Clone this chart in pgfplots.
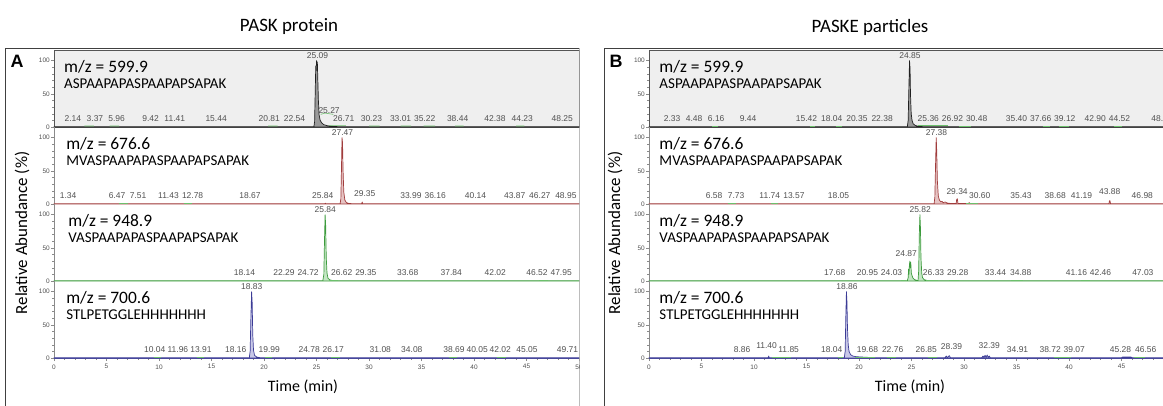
\documentclass[border=0pt]{standalone}
\usepackage{fontspec}
\setmainfont{Carlito}
\newfontfamily\arial{Liberation Sans}
\usepackage{pgfplots}
\pgfplotsset{compat=1.18}

\definecolor{labgray}{HTML}{505050}
\definecolor{axgray}{HTML}{8A8A8A}
\definecolor{framegray}{HTML}{555555}
\definecolor{boxfill}{HTML}{EFEFEF}
\definecolor{tblack}{HTML}{202020}
\definecolor{fblack}{HTML}{9A9A9A}
\definecolor{tred}{HTML}{A03C3C}
\definecolor{fred}{HTML}{E6C4C4}
\definecolor{tgreen}{HTML}{3D9B3D}
\definecolor{fgreen}{HTML}{C4E6C4}
\definecolor{tblue}{HTML}{3C3C96}
\definecolor{fblue}{HTML}{C8C8E8}
\definecolor{gmark}{HTML}{6CC06C}
\definecolor{panelframe}{HTML}{404040}

\tikzset{
  pklab/.style={font=\arial\fontsize{8.5}{9}\selectfont, text=labgray, inner sep=0pt},
  mz/.style={font=\fontsize{17.5}{20}\selectfont, anchor=west, inner sep=0pt},
  sq/.style={font=\fontsize{15}{17}\selectfont, anchor=west, inner sep=0pt},
  gmk/.style={gmark, line width=0.6bp},
}
\pgfplotsset{
  base/.style={scale only axis, height=77bp, ymin=0, ymax=116, clip=false,
    ytick={0,50,100}, minor y tick num=4, tick align=outside,
    major tick length=3bp, minor tick length=1.8bp,
    tick style={axgray, line width=0.4bp},
    yticklabel style={font=\arial\fontsize{6.5}{7}\selectfont, text=labgray, inner sep=1bp},
    xticklabel style={font=\arial\fontsize{6.5}{7}\selectfont, text=labgray},
    /pgf/number format/assume math mode=true,
    every axis plot/.append style={line width=0.7bp, line join=round},
    unbounded coords=jump,
  },
  pA/.style={width=525bp, xmin=0, xmax=50},
  pB/.style={width=514bp, xmin=0, xmax=48.95},
  topp/.style={axis background/.style={fill=boxfill},
    axis line style={draw=framegray, line width=0.6bp}, xtick=\empty, ytick pos=left},
  midp/.style={axis x line=none, axis y line*=left, axis line style={draw=axgray,-}},
  botp/.style={axis x line*=bottom, axis y line*=left, axis line style={draw=axgray,-},
    xtick={0,5,...,50}, minor x tick num=4},
}
\newcommand{\pk}[3]{\node[pklab] at (axis cs:#1,#2) {#3};}

\begin{document}
\begin{tikzpicture}[x=1bp,y=1bp]
\useasboundingbox (0,0) rectangle (1163,405);

% ---------------- Panel A ----------------
\begin{scope}
\clip (0,0) rectangle (579.3,405);
% A1
\begin{axis}[base,pA,topp,at={(54bp,278bp)},anchor=south west]
\addplot[draw=tblack, fill=fblack] coordinates {(0,0.4)(24.75,0.4)(24.82,8)(24.88,55)(24.93,92)(24.97,85)(25.0,100)(25.04,93)(25.08,98)(25.12,75)(25.18,40)(25.25,18)(25.35,10)(25.5,6)(25.7,3.5)(26.0,2)(26.5,1)(27.2,0.4)(50,0.4)} \closedcycle;
\addplot[gmk] coordinates {(2.9,1.5)(3.8,1.5)(3.8,nan)(5.3,1.5)(6.2,1.5)(6.2,nan)(20.4,1.5)(21.3,1.5)(21.3,nan)(26.2,2.5)(27.8,2.5)(27.8,nan)(30.0,1.5)(31.0,1.5)(31.0,nan)(33.0,1.5)(34.0,1.5)(34.0,nan)(35.2,1.5)(36.3,1.5)(36.3,nan)(38.2,1.5)(39.0,1.5)(39.0,nan)(44.0,1.5)(44.8,1.5)(44.8,nan)(25.4,19)(25.8,21)(26.6,19)};
\node[mz] at (rel axis cs:0.019,0.78) {m/z = 599.9};
\node[sq] at (rel axis cs:0.019,0.56) {ASPAAPAPASPAAPAPSAPAK};
\pk{25.09}{107}{25.09}\pk{26.2}{24}{25.27}
\pk{1.8}{12}{2.14}\pk{3.9}{12}{3.37}\pk{5.96}{12}{5.96}\pk{9.2}{12}{9.42}\pk{11.5}{12}{11.41}
\pk{15.44}{12}{15.44}\pk{20.5}{12}{20.81}\pk{22.9}{12}{22.54}\pk{27.6}{12}{26.71}\pk{30.23}{12}{30.23}
\pk{33.01}{12}{33.01}\pk{35.3}{12}{35.22}\pk{38.44}{12}{38.44}\pk{42.0}{12}{42.38}\pk{44.6}{12}{44.23}\pk{48.4}{12}{48.25}
\end{axis}
% A2
\begin{axis}[base,pA,midp,at={(54bp,201bp)},anchor=south west]
\addplot[draw=tred, fill=fred] coordinates {(0,0.4)(25.8,0.4)(25.84,1.2)(25.9,0.4)(27.25,0.4)(27.32,8)(27.38,55)(27.43,100)(27.48,92)(27.53,50)(27.6,18)(27.7,6)(27.85,2)(28.1,0.8)(28.5,0.4)(29.3,0.4)(29.35,3)(29.4,0.4)(50,0.4)} \closedcycle;
\addplot[gmk] coordinates {(6.2,1.5)(7.0,1.5)(7.0,nan)(12.4,1.5)(13.1,1.5)};
\node[mz] at (rel axis cs:0.023,0.78) {m/z = 676.6};
\node[sq] at (rel axis cs:0.023,0.56) {MVASPAAPAPASPAAPAPSAPAK};
\pk{27.47}{107}{27.47}
\pk{1.34}{12}{1.34}\pk{6.0}{12}{6.47}\pk{8.0}{12}{7.51}\pk{10.9}{12}{11.43}\pk{13.2}{12}{12.78}
\pk{18.67}{12}{18.67}\pk{25.6}{12}{25.84}\pk{29.6}{15}{29.35}\pk{33.99}{12}{33.99}\pk{36.3}{12}{36.16}
\pk{40.14}{12}{40.14}\pk{43.87}{12}{43.87}\pk{46.27}{12}{46.27}\pk{48.75}{12}{48.95}
\end{axis}
% A3
\begin{axis}[base,pA,midp,at={(54bp,124bp)},anchor=south west]
\addplot[draw=tgreen, fill=fgreen] coordinates {(0,0.4)(25.6,0.4)(25.7,10)(25.76,60)(25.82,100)(25.87,85)(25.93,35)(26.0,12)(26.1,4)(26.3,1.5)(26.6,0.5)(50,0.4)} \closedcycle;
\addplot[gmk] coordinates {(46.2,1.5)(47.0,1.5)(47.0,nan)(26.2,1.5)(27.0,1.5)};
\node[mz] at (rel axis cs:0.027,0.78) {m/z = 948.9};
\node[sq] at (rel axis cs:0.027,0.56) {VASPAAPAPASPAAPAPSAPAK};
\pk{25.84}{107}{25.84}
\pk{18.14}{12}{18.14}\pk{21.9}{12}{22.29}\pk{24.2}{12}{24.72}\pk{27.4}{12}{26.62}\pk{29.7}{12}{29.35}
\pk{33.68}{12}{33.68}\pk{37.84}{12}{37.84}\pk{42.02}{12}{42.02}\pk{46.0}{12}{46.52}\pk{48.3}{12}{47.95}
\end{axis}
% A4
\begin{axis}[base,pA,botp,at={(54bp,47bp)},anchor=south west, x axis line style={draw=tblue}]
\addplot[draw=tblue, fill=fblue] coordinates {(0,0.4)(18.6,0.4)(18.68,10)(18.75,60)(18.82,100)(18.87,85)(18.93,35)(19.0,12)(19.1,4)(19.3,1.5)(19.6,0.5)(50,0.4)} \closedcycle;
\addplot[gmk] coordinates {(9.5,1.5)(10.2,1.5)(10.2,nan)(13.6,1.5)(14.3,1.5)(14.3,nan)(20.1,1.5)(20.8,1.5)(20.8,nan)(26.4,1.5)(27.2,1.5)(27.2,nan)(37.6,1.5)(38.4,1.5)(38.4,nan)(42.2,1.5)(43.0,1.5)};
\node[mz] at (rel axis cs:0.023,0.78) {m/z = 700.6};
\node[sq] at (rel axis cs:0.023,0.56) {STLPETGGLEHHHHHHH};
\pk{18.83}{107}{18.83}
\pk{9.6}{12}{10.04}\pk{11.8}{12}{11.96}\pk{14.0}{12}{13.91}\pk{17.3}{12}{18.16}\pk{20.5}{12}{19.99}
\pk{24.3}{12}{24.78}\pk{26.6}{12}{26.17}\pk{31.08}{12}{31.08}\pk{34.08}{12}{34.08}\pk{38.1}{12}{38.69}
\pk{40.3}{12}{40.05}\pk{42.5}{12}{42.02}\pk{45.05}{12}{45.05}\pk{48.9}{12}{49.71}
\end{axis}
\draw[panelframe, line width=0.8bp] (5,-5) -- (5,357) -- (579,357) -- (579,-5);
\end{scope}
\node[font=\fontsize{19}{22}\selectfont] at (289,378) {PASK protein};
\node[font=\arial\bfseries\fontsize{18}{20}\selectfont] at (17,344) {A};
\node[rotate=90, font=\fontsize{17}{20}\selectfont] at (22,172) {Relative Abundance (\%)};
\node[font=\fontsize{16}{20}\selectfont] at (303,18) {Time (min)};

% ---------------- Panel B ----------------
\begin{scope}
\clip (580,0) rectangle (1163,405);
% B1
\begin{axis}[base,pB,topp,at={(649bp,278bp)},anchor=south west]
\addplot[draw=tblack, fill=fblack] coordinates {(0,0.4)(24.6,0.4)(24.68,10)(24.75,60)(24.81,100)(24.86,88)(24.9,50)(24.97,20)(25.05,10)(25.15,5)(25.3,3)(25.5,1.5)(26,0.6)(50,0.4)} \closedcycle;
\addplot[gmk] coordinates {(6.0,1.5)(6.6,1.5)(6.6,nan)(15.3,1.5)(15.8,1.5)(15.8,nan)(17.8,1.5)(18.4,1.5)(18.4,nan)(25.6,2)(28.5,2)(28.5,nan)(29.5,1.5)(30.7,1.5)(30.7,nan)(37.5,1.5)(38.2,1.5)(38.2,nan)(39.0,1.5)(40.0,1.5)(40.0,nan)(44.3,1.5)(45.0,1.5)};
\node[mz] at (rel axis cs:0.02,0.78) {m/z = 599.9};
\node[sq] at (rel axis cs:0.02,0.56) {ASPAAPAPASPAAPAPSAPAK};
\pk{24.85}{107}{24.85}
\pk{2.2}{12}{2.33}\pk{4.3}{12}{4.48}\pk{6.4}{12}{6.16}\pk{9.44}{12}{9.44}\pk{15.0}{12}{15.42}
\pk{17.4}{12}{18.04}\pk{19.8}{12}{20.35}\pk{22.2}{12}{22.38}\pk{26.6}{12}{25.36}\pk{28.9}{12}{26.92}
\pk{31.2}{12}{30.48}\pk{35.0}{12}{35.40}\pk{37.3}{12}{37.66}\pk{39.6}{12}{39.12}\pk{42.5}{12}{42.90}
\pk{44.8}{12}{44.52}\pk{48.85}{12}{48.55}
\end{axis}
% B2
\begin{axis}[base,pB,midp,at={(649bp,201bp)},anchor=south west]
\addplot[draw=tred, fill=fred] coordinates {(0,0.4)(27.15,0.4)(27.22,10)(27.29,60)(27.35,100)(27.4,80)(27.46,35)(27.55,12)(27.65,6)(27.8,3)(27.9,4)(28.0,2)(28.2,3)(28.4,1.5)(28.7,0.8)(29.25,0.6)(29.3,7)(29.36,8)(29.42,1)(30.4,0.5)(30.5,2)(30.6,0.5)(43.8,0.5)(43.85,5)(43.9,5)(43.95,0.5)(50,0.4)} \closedcycle;
\addplot[gmk] coordinates {(7.5,1.5)(8.3,1.5)(8.3,nan)(11.6,1.5)(12.3,1.5)(12.3,nan)(30.2,1.5)(31.3,1.5)};
\node[mz] at (rel axis cs:0.02,0.78) {m/z = 676.6};
\node[sq] at (rel axis cs:0.02,0.56) {MVASPAAPAPASPAAPAPSAPAK};
\pk{27.38}{107}{27.38}
\pk{6.2}{12}{6.58}\pk{8.3}{12}{7.73}\pk{11.5}{12}{11.74}\pk{13.8}{12}{13.57}\pk{18.05}{12}{18.05}
\pk{29.34}{18}{29.34}\pk{31.5}{12}{30.60}\pk{35.43}{12}{35.43}\pk{38.68}{12}{38.68}\pk{41.19}{12}{41.19}
\pk{43.88}{18}{43.88}\pk{46.98}{12}{46.98}
\end{axis}
% B3
\begin{axis}[base,pB,midp,at={(649bp,124bp)},anchor=south west]
\addplot[draw=tgreen, fill=fgreen] coordinates {(0,0.4)(24.6,0.4)(24.68,5)(24.72,18)(24.76,10)(24.8,25)(24.85,30)(24.89,20)(24.93,28)(24.98,12)(25.05,8)(25.15,4)(25.3,2)(25.5,1)(25.62,0.6)(25.68,15)(25.74,70)(25.8,100)(25.85,80)(25.9,35)(25.97,12)(26.05,5)(26.2,2)(26.5,0.8)(27,0.4)(50,0.4)} \closedcycle;
\addplot[gmk] coordinates {(24.0,1.5)(24.5,1.5)(24.5,nan)(26.4,1.5)(27.5,1.5)(27.5,nan)(28.6,1.5)(29.5,1.5)(29.5,nan)(34.5,1.5)(35.6,1.5)(35.6,nan)(41.1,1.5)(42.0,1.5)};
\node[mz] at (rel axis cs:0.02,0.78) {m/z = 948.9};
\node[sq] at (rel axis cs:0.02,0.56) {VASPAAPAPASPAAPAPSAPAK};
\pk{25.82}{107}{25.82}\pk{24.5}{42}{24.87}
\pk{17.68}{12}{17.68}\pk{20.8}{12}{20.95}\pk{23.1}{12}{24.03}\pk{27.1}{12}{26.33}\pk{29.4}{12}{29.28}
\pk{33.0}{13}{33.44}\pk{35.4}{12}{34.88}\pk{40.7}{12}{41.16}\pk{43.0}{12}{42.46}\pk{47.03}{12}{47.03}
\end{axis}
% B4
\begin{axis}[base,pB,botp,at={(649bp,47bp)},anchor=south west, x axis line style={draw=tblue}]
\addplot[draw=tblue, fill=fblue] coordinates {(0,0.4)(11.35,0.4)(11.4,3)(11.45,0.4)(18.6,0.4)(18.68,10)(18.74,60)(18.8,100)(18.85,85)(18.9,45)(18.97,20)(19.05,10)(19.2,5)(19.4,3)(19.7,2)(20.2,1.5)(20.8,1)(21.5,0.5)(28.2,0.5)(28.3,3)(28.4,0.8)(28.6,3.5)(28.7,0.5)(31.7,0.5)(31.8,3)(31.9,1)(32.0,4)(32.1,1)(32.2,4.5)(32.3,1)(32.4,3)(32.5,0.5)(45.0,0.5)(45.1,1.5)(45.9,1.5)(46,0.5)(50,0.4)} \closedcycle;
\addplot[gmk] coordinates {(11.7,1.5)(13.5,1.5)(13.5,nan)(18.0,1.5)(18.5,1.5)(18.5,nan)(19.6,1.5)(21.5,1.5)(21.5,nan)(22.7,1.5)(23.5,1.5)(23.5,nan)(26.6,1.5)(27.4,1.5)(27.4,nan)(38.6,1.5)(40.2,1.5)(40.2,nan)(46.2,1.5)(47.2,1.5)};
\node[mz] at (rel axis cs:0.02,0.78) {m/z = 700.6};
\node[sq] at (rel axis cs:0.02,0.56) {STLPETGGLEHHHHHHH};
\pk{18.86}{107}{18.86}
\pk{8.86}{12}{8.86}\pk{11.2}{18}{11.40}\pk{13.3}{12}{11.85}\pk{17.4}{12}{18.04}\pk{20.8}{13}{19.68}
\pk{23.2}{12}{22.76}\pk{26.4}{12}{26.85}\pk{28.8}{17}{28.39}\pk{32.4}{18}{32.39}\pk{35.1}{12}{34.91}
\pk{38.2}{13}{38.72}\pk{40.5}{12}{39.07}\pk{44.9}{12}{45.28}\pk{47.3}{12}{46.56}
\end{axis}
\draw[panelframe, line width=0.8bp] (604,-5) -- (604,357) -- (1170,357);
\end{scope}
\node[font=\fontsize{19}{22}\selectfont] at (870,378) {PASKE particles};
\node[font=\arial\bfseries\fontsize{18}{20}\selectfont] at (616,344) {B};
\node[rotate=90, font=\fontsize{17}{20}\selectfont] at (615,172) {Relative Abundance (\%)};
\node[font=\fontsize{16}{20}\selectfont] at (910,18) {Time (min)};
\end{tikzpicture}
\end{document}
